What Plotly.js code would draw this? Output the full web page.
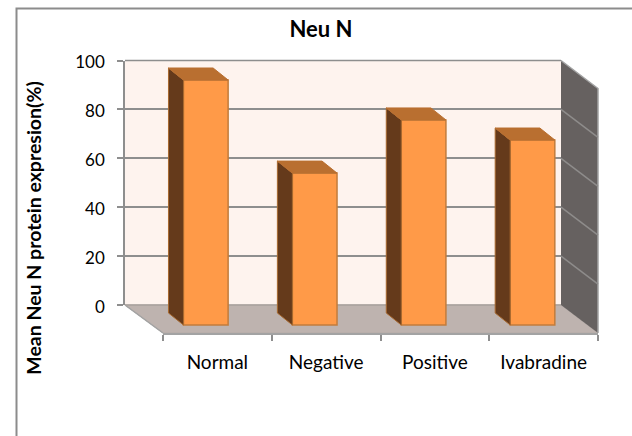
<!DOCTYPE html>
<html><head><meta charset="utf-8">
<script src="https://cdn.plot.ly/plotly-3.0.1.min.js"></script>
<style>html,body{margin:0;padding:0;background:#fff}#c{width:632px;height:436px}</style>
</head><body><div id="c"></div>
<script>
const categories = ["Normal", "Negative", "Positive", "Ivabradine"];
const values = [100, 62, 83.7, 75.5];
const yTicks = [0, 20, 40, 60, 80, 100];
const titleText = "Neu N";
const yTitle = "Mean Neu N protein expresion(%)";

const W = 632, H = 436, FONT = "Lato, Carlito, 'Open Sans', sans-serif";
const px = v => v / W, py = v => 1 - v / H;
// geometry of the pseudo-3D box, in pixels
const wall = {l:125, r:561, top:60.5, bot:305}, floor = {l:163, r:598, bot:333};
const dep = {x:37, y:28};
// bar front plane: index -> x pixel, value -> y pixel
const fp = {x0:205.8, dx:108.9, y0:325, dy:2.45, w:0.41, depX:15, depY:12};
const xr = [(0-fp.x0)/fp.dx, (W-fp.x0)/fp.dx];
const yr = [(fp.y0-H)/fp.dy, fp.y0/fp.dy];
const ddx = fp.depX/fp.dx, ddy = fp.depY/fp.dy;
const idx = categories.map((_, i) => i);

const traces = [{
  type:"bar", x:idx, y:values, width:fp.w, xaxis:"x3", yaxis:"y3",
  marker:{color:"#FF9A48", line:{color:"#C27C3C", width:1.5}}, hoverinfo:"x+y", showlegend:false
}];
idx.forEach(i => {
  const L = i - fp.w/2, R = i + fp.w/2, v = values[i];
  traces.push({type:"scatter", mode:"lines", xaxis:"x3", yaxis:"y3", showlegend:false, hoverinfo:"skip",
    x:[L, L-ddx, L-ddx, L, L], y:[0, ddy, v+ddy, v, 0], fill:"toself", fillcolor:"#653A1B",
    line:{color:"#A8692F", width:1}});
  traces.push({type:"scatter", mode:"lines", xaxis:"x3", yaxis:"y3", showlegend:false, hoverinfo:"skip",
    x:[L, L-ddx, R-ddx, R, L], y:[v, v+ddy, v+ddy, v, v], fill:"toself", fillcolor:"#B96F30",
    line:{color:"#B96F30", width:1}});
});
// dummy traces so the floor and wall axes exist
traces.push({type:"scatter", mode:"markers", x:categories, y:values, xaxis:"x2", yaxis:"y2",
  marker:{opacity:0}, hoverinfo:"skip", showlegend:false});
traces.push({type:"scatter", mode:"markers", x:[0], y:[0], xaxis:"x", yaxis:"y",
  marker:{opacity:0}, hoverinfo:"skip", showlegend:false});

const poly = (pts, fill, lineC, lw, layer) => ({
  type:"path", xref:"paper", yref:"paper", layer:layer||"below", fillcolor:fill||"rgba(0,0,0,0)",
  line:{color:lineC||"rgba(0,0,0,0)", width:lw||0},
  path:"M"+pts.map(p => px(p[0])+","+py(p[1])).join("L")+(fill?"Z":"")
});
const yPix = v => wall.bot - (wall.bot-wall.top)*v/100;
const shapes = [
  poly([[16.5,H],[16.5,8.5],[W,8.5]], null, "#8C8C8C", 2),
  poly([[wall.l,wall.top],[wall.r,wall.top],[wall.r,wall.bot],[wall.l,wall.bot]], "#FEF3EE"),
  poly([[wall.l,wall.bot],[wall.r,wall.bot],[floor.r,floor.bot],[floor.l,floor.bot]], "#BEB3AF", "#B5ABA7", 1),
  poly([[wall.r,wall.top],[floor.r,wall.top+dep.y],[floor.r,floor.bot],[wall.r,wall.bot]], "#666160"),
  poly([[wall.l,wall.bot],[floor.l,floor.bot]], null, "#A3A3A3", 1.5),
  poly([[wall.r,wall.top],[floor.r,wall.top+dep.y],[floor.r,floor.bot]], null, "#A3A3A3", 1.5),
  poly([[wall.l,wall.top],[wall.r,wall.top]], null, "#8E8E8E", 1.5),
  poly([[wall.l,wall.bot],[wall.r,wall.bot]], null, "#A8A29E", 1.5),
];
yTicks.forEach(t => {
  if (t === 0 || t === 100) return;
  shapes.push(poly([[wall.r,yPix(t)],[floor.r,yPix(t)+dep.y]], null, "#8E8C8B", 1.5));
});

const layout = {
  width:W, height:H, margin:{l:0,r:0,t:0,b:0}, paper_bgcolor:"#FFFFFF", plot_bgcolor:"rgba(0,0,0,0)",
  font:{family:FONT, size:17, color:"#000"}, showlegend:false, shapes,
  title:{text:titleText, font:{family:FONT, size:22, weight:700, color:"#000"}, x:321/W, xanchor:"center", y:1-29/H, yanchor:"middle"},
  xaxis:{domain:[px(wall.l),px(wall.r)], range:[0,4], visible:false, fixedrange:true, anchor:"y"},
  yaxis:{domain:[py(wall.bot),py(wall.top)], range:[0,100], tickvals:yTicks, ticks:"outside", ticklen:6, tickcolor:"#8E8E8E", tickwidth:1.5,
    showline:true, linecolor:"#8E8E8E", linewidth:1.5, showgrid:true, gridcolor:"#8E8E8E", gridwidth:1.5, zeroline:false,
    ticklabelstandoff:9, ticklabelshift:2, tickfont:{family:FONT,size:17}, anchor:"x", fixedrange:true},
  xaxis2:{domain:[px(floor.l),px(floor.r)], type:"category", categoryorder:"array", categoryarray:categories, range:[-0.5,3.5],
    tickson:"boundaries", ticks:"outside", ticklen:6, tickcolor:"#8E8E8E", tickwidth:1.5, showline:true, linecolor:"#A3A3A3", linewidth:1.5,
    showgrid:false, zeroline:false, ticklabelstandoff:11, tickfont:{family:FONT,size:19}, anchor:"y2", fixedrange:true},
  yaxis2:{domain:[py(floor.bot),py(123)], range:[0,100], showgrid:false, zeroline:false, showline:false, ticks:"", showticklabels:false,
    anchor:"free", position:px(60), title:{text:yTitle, standoff:12, font:{family:FONT,size:19.5,weight:700}}, fixedrange:true},
  xaxis3:{domain:[0,1], range:xr, visible:false, fixedrange:true, anchor:"y3"},
  yaxis3:{domain:[0,1], range:yr, visible:false, fixedrange:true, anchor:"x3"},
};
Plotly.newPlot("c", traces, layout, {displayModeBar:false, responsive:false});
</script></body></html>
